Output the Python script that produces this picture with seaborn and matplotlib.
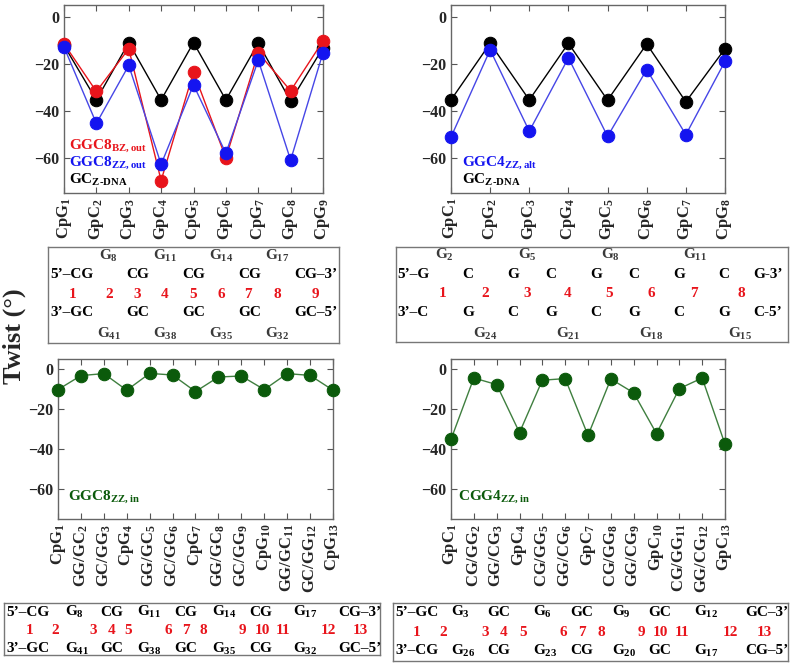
import numpy as np
import matplotlib
matplotlib.use("Agg")
import matplotlib.pyplot as plt
import seaborn as sns

# twist values (degrees) per base-pair step
tl_labels = ["CpG$_{1}$", "GpC$_{2}$", "CpG$_{3}$", "GpC$_{4}$", "CpG$_{5}$",
             "GpC$_{6}$", "CpG$_{7}$", "GpC$_{8}$", "CpG$_{9}$"]
tl_bz_out = [-11.5, -31.8, -13.6, -69.7, -23.5, -60.1, -15.3, -31.5, -10.3]
tl_zz_out = [-12.9, -45.4, -20.7, -62.8, -29.0, -58.1, -18.5, -61.0, -15.3]
tl_zdna = [-12.2, -35.4, -11.0, -35.4, -11.0, -35.4, -11.2, -35.9, -13.2]

tr_labels = ["GpC$_{1}$", "CpG$_{2}$", "GpC$_{3}$", "CpG$_{4}$",
             "GpC$_{5}$", "CpG$_{6}$", "GpC$_{7}$", "CpG$_{8}$"]
tr_zz_alt = [-51.2, -14.1, -48.7, -17.5, -50.9, -22.5, -50.2, -19.0]
tr_zdna = [-35.4, -11.3, -35.4, -11.3, -35.5, -11.6, -36.2, -13.6]

bl_labels = ["CpG$_{1}$", "GG/GC$_{2}$", "GC/GG$_{3}$", "CpG$_{4}$", "GG/GC$_{5}$",
             "GC/GG$_{6}$", "CpG$_{7}$", "GG/GC$_{8}$", "GC/GG$_{9}$", "CpG$_{10}$",
             "GG/GC$_{11}$", "GC/GG$_{12}$", "CpG$_{13}$"]
bl_zz_in = [-10.3, -3.3, -2.3, -10.6, -2.2, -3.0, -11.3, -4.0, -3.5, -10.3, -2.3, -3.2, -10.6]

br_labels = ["GpC$_{1}$", "CG/GG$_{2}$", "GG/CG$_{3}$", "GpC$_{4}$", "CG/GG$_{5}$",
             "GG/CG$_{6}$", "GpC$_{7}$", "CG/GG$_{8}$", "GG/CG$_{9}$", "GpC$_{10}$",
             "CG/GG$_{11}$", "GG/CG$_{12}$", "GpC$_{13}$"]
br_zz_in = [-35.2, -4.5, -7.8, -31.8, -5.6, -4.8, -33.2, -5.0, -11.9, -32.3, -9.8, -4.5, -37.6]

# sequence schematics under each panel
tl_seq_top = ["5’–CG", "CG", "CG", "CG", "CG–3’"]
tl_seq_bot = ["3’–GC", "GC", "GC", "GC", "GC–5’"]
tl_g_top = ["G$_{8}$", "G$_{11}$", "G$_{14}$", "G$_{17}$"]
tl_g_bot = ["G$_{41}$", "G$_{38}$", "G$_{35}$", "G$_{32}$"]
tl_steps = [str(i) for i in range(1, 10)]

tr_seq_top = ["5’–G", "C", "G", "C", "G", "C", "G", "C", "G-3’"]
tr_seq_bot = ["3’–C", "G", "C", "G", "C", "G", "C", "G", "C-5’"]
tr_g_top = ["G$_{2}$", "G$_{5}$", "G$_{8}$", "G$_{11}$"]
tr_g_bot = ["G$_{24}$", "G$_{21}$", "G$_{18}$", "G$_{15}$"]
tr_steps = [str(i) for i in range(1, 9)]

bl_seq_top = ["5’–CG", "G$_{8}$", "CG", "G$_{11}$", "CG", "G$_{14}$", "CG", "G$_{17}$", "CG–3’"]
bl_seq_bot = ["3’–GC", "G$_{41}$", "GC", "G$_{38}$", "GC", "G$_{35}$", "CG", "G$_{32}$", "GC–5’"]
bl_steps = [str(i) for i in range(1, 14)]

br_seq_top = ["5’–GC", "G$_{3}$", "GC", "G$_{6}$", "GC", "G$_{9}$", "GC", "G$_{12}$", "GC–3’"]
br_seq_bot = ["3’–CG", "G$_{26}$", "CG", "G$_{23}$", "CG", "G$_{20}$", "GC", "G$_{17}$", "CG–5’"]
br_steps = [str(i) for i in range(1, 14)]

RED = "#e8141b"
BLUE = "#1414f0"
LBLUE = "#4646e6"
GREEN = "#0b5a0b"
LGREEN = "#3f7f3f"
GREY = "#3a3a3a"

sns.set_style("ticks")
plt.rcParams["font.family"] = ["Liberation Serif", "DejaVu Serif"]
plt.rcParams["font.weight"] = "bold"
plt.rcParams["mathtext.fontset"] = "custom"
plt.rcParams["mathtext.rm"] = "Liberation Serif"
plt.rcParams["mathtext.bf"] = "Liberation Serif:bold"
plt.rcParams["mathtext.default"] = "regular"

W, H = 795, 666
fig = plt.figure(figsize=(W / 100, H / 100), dpi=100)


def px_rect(l, t, r, b):
    return [l / W, 1 - b / H, (r - l) / W, (b - t) / H]


def panel(rect, labels, series, notes):
    ax = fig.add_axes(px_rect(*rect))
    x = np.arange(1, len(labels) + 1)
    for vals, lc, mc in series:
        sns.lineplot(x=x, y=vals, ax=ax, color=lc, lw=1, marker="o", markersize=9,
                     markerfacecolor=mc, markeredgecolor=mc, clip_on=False, zorder=3)
    ax.set_xlim(1, len(labels))
    ax.set_ylim(-75, 5)
    ax.set_yticks([0, -20, -40, -60])
    ax.set_xticks(x)
    ax.set_xticklabels(labels, rotation=90)
    ax.tick_params(direction="in", top=True, right=True, length=4, color="#555")
    ax.tick_params(axis="y", labelsize=11.5)
    ax.tick_params(axis="x", labelsize=12)
    for s in ax.spines.values():
        s.set_color("#666")
        s.set_linewidth(1)
    for tx, ty, txt, c in notes:
        ax.text(tx, ty, txt, color=c, fontsize=11, fontweight="bold",
                transform=ax.transAxes, va="center")
    return ax


panel((64, 5, 323, 193), tl_labels,
      [(tl_zdna, "black", "black"), (tl_bz_out, RED, RED), (tl_zz_out, LBLUE, BLUE)],
      [(0.02, 0.25, "GGC8$_{BZ,out}$", RED), (0.02, 0.16, "GGC8$_{ZZ,out}$", BLUE),
       (0.02, 0.069, "GC$_{\\text{Z-DNA}}$", "black")])
panel((451, 5, 725, 193), tr_labels,
      [(tr_zdna, "black", "black"), (tr_zz_alt, LBLUE, BLUE)],
      [(0.04, 0.16, "GGC4$_{ZZ,alt}$", BLUE), (0.04, 0.069, "GC$_{\\text{Z-DNA}}$", "black")])
panel((58, 359, 333, 519), bl_labels, [(bl_zz_in, LGREEN, GREEN)],
      [(0.036, 0.14, "GGC8$_{ZZ,in}$", GREEN)])
panel((451, 359, 725, 519), br_labels, [(br_zz_in, LGREEN, GREEN)],
      [(0.026, 0.14, "CGG4$_{ZZ,in}$", GREEN)])

fig.text(0.018, 1 - 336 / H, "Twist (°)", rotation=90, fontsize=19,
         fontweight="bold", ha="center", va="center")


def seq_box(rect, rows):
    l, t, r, b = rect
    ax = fig.add_axes(px_rect(l, t, r, b))
    ax.set_xlim(l, r)
    ax.set_ylim(b, t)
    ax.set_xticks([])
    ax.set_yticks([])
    for s in ax.spines.values():
        s.set_color("#777")
        s.set_linewidth(1)
    for y, xs, texts, color, ha in rows:
        for xx, txt in zip(xs, texts):
            ax.text(xx, y, txt, color=color, ha=ha, va="center", fontsize=11, fontweight="bold")


seq_box((48, 247, 339, 343), [
    (256, [99, 153, 209, 265], tl_g_top, GREY, "left"),
    (275, [50, 126, 182, 238, 294], tl_seq_top, "black", "left"),
    (294, [73, 109, 137, 165, 193, 221, 248, 277, 315], tl_steps, RED, "center"),
    (313, [50, 126, 182, 238, 294], tl_seq_bot, "black", "left"),
    (334, [97, 153, 209, 265], tl_g_bot, GREY, "left"),
])
seq_box((396, 247, 788, 342), [
    (255, [435, 518, 601, 683], tr_g_top, GREY, "left"),
    (275, [397, 462, 507, 545, 590, 628, 673, 718, 753], tr_seq_top, "black", "left"),
    (294, [443, 485, 527, 568, 609, 651, 694, 741], tr_steps, RED, "center"),
    (313, [397, 462, 507, 545, 590, 628, 673, 718, 753], tr_seq_bot, "black", "left"),
    (334, [473, 556, 639, 728], tr_g_bot, GREY, "left"),
])
seq_box((4, 603, 380, 655), [
    (612, [6, 65, 100, 137, 174, 212, 249, 293, 338], bl_seq_top, "black", "left"),
    (630, [30, 55, 93, 112, 128, 168, 186, 203, 242, 262, 283, 328, 360], bl_steps, RED, "center"),
    (649, [6, 65, 100, 137, 174, 212, 249, 293, 338], bl_seq_bot, "black", "left"),
])
seq_box((393, 603, 788, 661), [
    (612, [395, 451, 487, 533, 570, 612, 648, 694, 745], br_seq_top, "black", "left"),
    (632, [417, 443, 485, 504, 523, 563, 582, 601, 641, 660, 682, 730, 764], br_steps, RED, "center"),
    (651, [395, 451, 487, 533, 570, 612, 648, 694, 745], br_seq_bot, "black", "left"),
])

fig.savefig("out.png", dpi=100)
